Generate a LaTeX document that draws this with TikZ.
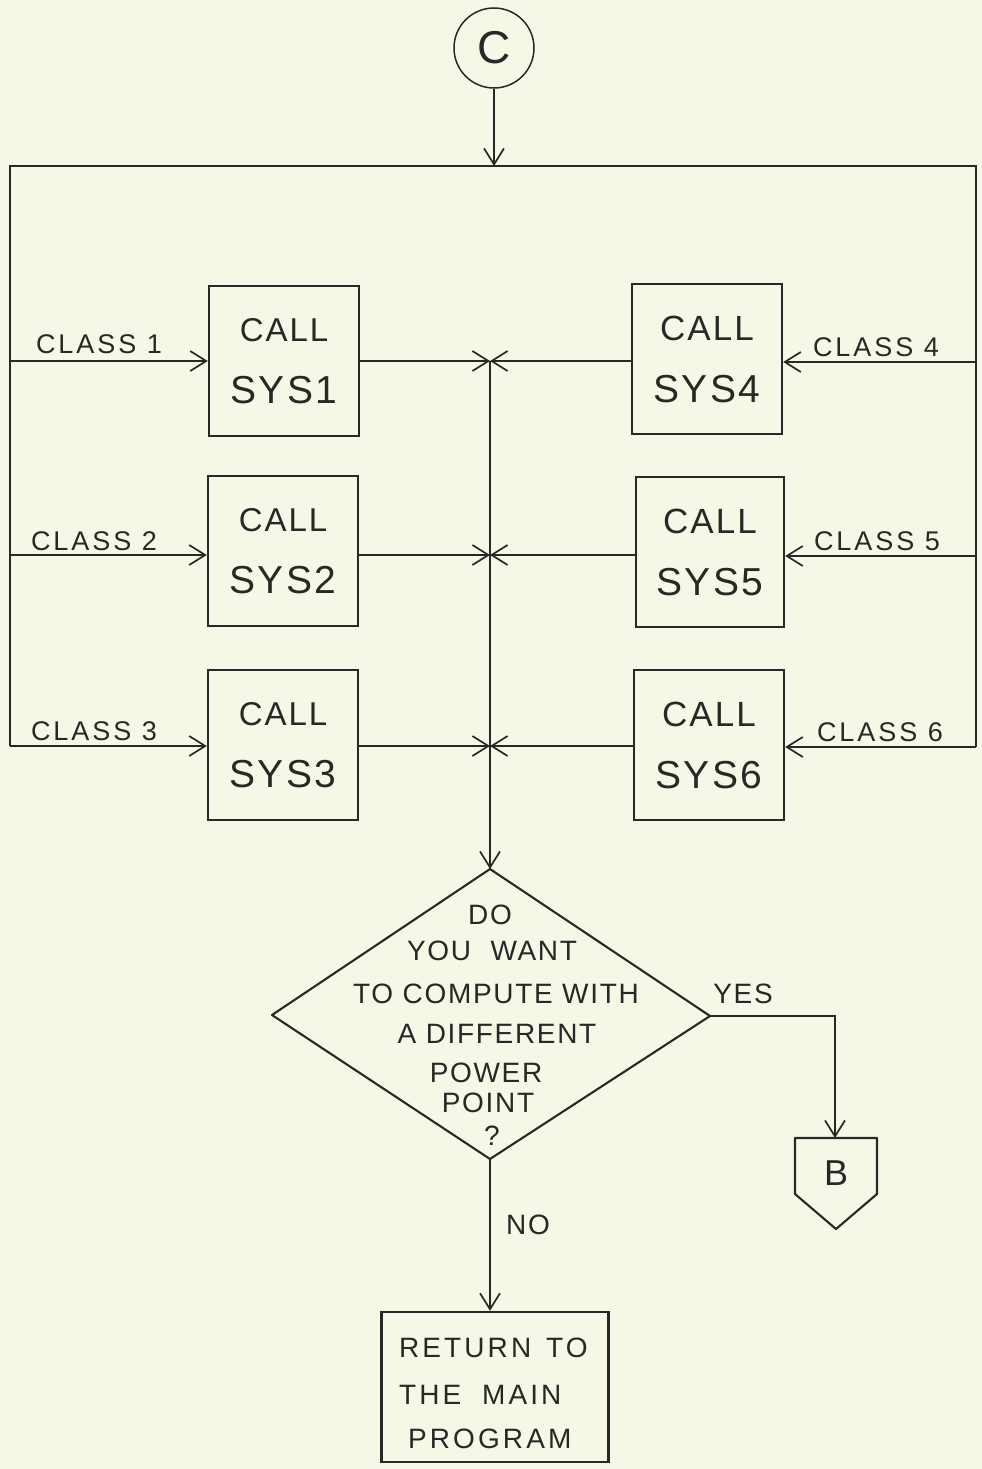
\documentclass[tikz,border=0pt]{standalone}
\usepackage{fontspec}
\setmainfont{Liberation Sans}
\newfontfamily\hand[LetterSpace=6]{Liberation Sans}
\newfontfamily\handwide[LetterSpace=11]{Liberation Sans}
\usetikzlibrary{arrows.meta,calc}
\definecolor{paper}{RGB}{247,247,232}
\definecolor{ink}{RGB}{40,40,38}
\begin{document}
\begin{tikzpicture}[x=1pt,y=-1pt,
  >={Straight Barb[length=16pt,width=20pt,line width=1.7pt]},
  conn/.style={draw=ink,line width=2pt},
  outline/.style={draw=ink,line width=2.1pt,line join=round},
  sysbox/.style={draw=ink,line width=2.4pt,minimum width=150pt,minimum height=150pt,inner sep=0pt,align=center,text=ink,font=\hand\fontsize{36}{62}\selectfont},
  lbl/.style={inner sep=0pt,text=ink,font=\handwide\fontsize{27}{32}\selectfont},
  qtxt/.style={inner sep=0pt,text=ink,font=\hand\fontsize{28}{32}\selectfont},
  rtxt/.style={inner sep=0pt,text=ink,font=\handwide\fontsize{28}{32}\selectfont}
]
\fill[paper] (0,0) rectangle (982,1469);
\useasboundingbox (0,0) rectangle (982,1469);

% connector C
\node[circle,draw=ink,line width=1.5pt,minimum size=80pt,inner sep=0pt,text=ink,font=\hand\fontsize{46}{50}\selectfont] (C) at (494,48) {C};
\coordinate (T) at (494,166);
\draw[conn,->] (C) -- (T);

% frame
\coordinate (TL) at (10,166);
\coordinate (TR) at (976,166);
\coordinate (L1) at (10,361);
\coordinate (L2) at (10,555);
\coordinate (L3) at (10,746);
\coordinate (R1) at (976,362);
\coordinate (R2) at (976,556);
\coordinate (R3) at (976,747);
\coordinate (M1) at (490,361);
\coordinate (M2) at (490,555);
\coordinate (M3) at (490,746);
\draw[conn] (L3) -- (TL) -- (TR) -- (R3);

% boxes
\node[sysbox] (b1) at (284,361) {{\fontsize{33}{62}\selectfont CALL}\\{\fontsize{39}{62}\selectfont SYS1}};
\node[sysbox] (b2) at (283,551) {{\fontsize{33}{62}\selectfont CALL}\\{\fontsize{39}{62}\selectfont SYS2}};
\node[sysbox] (b3) at (283,745) {{\fontsize{33}{62}\selectfont CALL}\\{\fontsize{39}{62}\selectfont SYS3}};
\node[sysbox] (b4) at (707,359) {{\fontsize{35}{60}\selectfont CALL}\\{\fontsize{39}{60}\selectfont SYS4}};
\node[sysbox,minimum width=148pt] (b5) at (710,552) {{\fontsize{35}{60}\selectfont CALL}\\{\fontsize{39}{60}\selectfont SYS5}};
\node[sysbox] (b6) at (709,745) {{\fontsize{35}{60}\selectfont CALL}\\{\fontsize{39}{60}\selectfont SYS6}};

% class inputs
\draw[conn,->] (L1) -- (L1 -| b1.west);
\draw[conn,->] (L2) -- (L2 -| b2.west);
\draw[conn,->] (L3) -- (L3 -| b3.west);
\draw[conn,->] (R1) -- (R1 -| b4.east);
\draw[conn,->] (R2) -- (R2 -| b5.east);
\draw[conn,->] (R3) -- (R3 -| b6.east);
\node[lbl] (c1) at (99,344) {CLASS 1};
\node[lbl] (c2) at (94,541) {CLASS 2};
\node[lbl] (c3) at (94,731) {CLASS 3};
\node[lbl] (c4) at (876,347) {CLASS 4};
\node[lbl] (c5) at (877,541) {CLASS 5};
\node[lbl] (c6) at (880,732) {CLASS 6};

% outputs to the centre line
\draw[conn,->] (b1.east |- M1) -- (M1);
\draw[conn,->] (b2.east |- M2) -- (M2);
\draw[conn,->] (b3.east |- M3) -- (M3);
\draw[conn,->] (b4.west |- M1) -- (M1);
\draw[conn,->] (b5.west |- M2) -- (M2);
\draw[conn,->] (b6.west |- M3) -- (M3);

% decision
\coordinate (DT) at (490,869);
\coordinate (DR) at (710,1016);
\coordinate (DB) at (490,1159);
\coordinate (DL) at (272,1015);
\draw[conn,->] (M1) -- (DT);
\draw[outline] (DT) -- (DR) -- (DB) -- (DL) -- cycle;
\node[qtxt] (q1) at (490,915) {DO};
\node[qtxt] (q2) at (492,951) {YOU \hspace{10pt}WANT};
\node[qtxt] (q3) at (496,994) {TO COMPUTE WITH};
\node[qtxt] (q4) at (497,1034) {A DIFFERENT};
\node[qtxt] (q5) at (486,1073) {POWER};
\node[qtxt] (q6) at (488,1103) {POINT};
\node[qtxt] (q7) at (492,1136) {?};

% yes branch
\coordinate (YC) at (835,1016);
\coordinate (BT) at (835,1138);
\draw[conn,->] (DR) -- (YC) -- (BT);
\node[qtxt] (yes) at (743,994) {YES};
\draw[outline] (795,1138) -- (877,1138) -- (877,1194) -- (836,1229) -- (795,1194) -- cycle;
\node[inner sep=0pt,text=ink,font=\hand\fontsize{36}{40}\selectfont] (B) at (836,1173) {B};

% no branch
\node[draw=ink,line width=2.4pt,minimum width=227pt,minimum height=150pt,inner sep=0pt] (ret) at (495,1387) {};
\draw[conn,->] (DB) -- (DB |- ret.north);
\node[qtxt] (no) at (528,1225) {NO};
\node[rtxt,anchor=west] (r1) at (399,1348) {RETURN \hspace{4pt}TO};
\node[rtxt,anchor=west] (r2) at (399,1395) {THE \hspace{10pt}MAIN};
\node[rtxt,anchor=west] (r3) at (408,1439) {PROGRAM};
\end{tikzpicture}
\end{document}
